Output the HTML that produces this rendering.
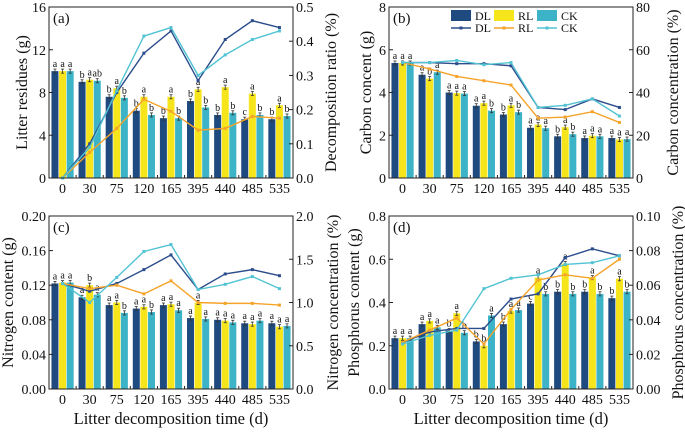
<!DOCTYPE html>
<html><head><meta charset="utf-8">
<style>
html,body{margin:0;padding:0;background:#fff;}
svg, svg text{font-family:"Liberation Serif","DejaVu Serif","Times New Roman",serif;}
</style></head>
<body>
<svg id="chart" width="685" height="430" viewBox="0 0 685 430" xmlns="http://www.w3.org/2000/svg"></svg>
<script>
const categories = ["0","30","75","120","165","395","440","485","535"];
// Panel a
const aDL = [10,9.0,7.6,6.3,5.6,7.2,5.9,5.5,5.5];
const aRL = [10,9.2,8.4,7.6,7.6,8.3,8.5,7.9,6.8];
const aCK = [10,9.1,7.5,5.9,5.6,6.6,6.1,5.9,5.8];
const aLineDL = [0,0.10,0.25,0.365,0.43,0.285,0.405,0.46,0.44];
const aLineRL = [0,0.075,0.145,0.23,0.195,0.14,0.145,0.18,0.175];
const aLineCK = [0,0.09,0.255,0.415,0.44,0.30,0.36,0.405,0.43];
const aLetters = [["a","a","a"],["b","a","ab"],["b","a","b"],["b","a","b"],["b","a","b"],["b","a","b"],["b","a","b"],["c","a","b"],["b","a","b"]];
const aLeftTicks = ["0","4","8","12","16"];
const aRightTicks = ["0.0","0.1","0.2","0.3","0.4","0.5"];
// Panel b
const bDL = [5.38,4.83,4.0,3.38,2.97,2.35,1.95,1.87,1.87];
const bRL = [5.38,4.65,3.97,3.5,3.4,2.5,2.38,1.98,1.8];
const bCK = [5.38,4.95,3.95,3.15,3.08,2.33,2.05,1.95,1.82];
const bLineDL = [54,54,53.5,53.5,52.5,33,32,37,33];
const bLineRL = [54,51,47.5,45.5,43.5,28,28.5,31,26];
const bLineCK = [54,54,55,53,54,33,34,37,29];
const bLetters = [["a","a","a"],["a","b","a"],["a","a","a"],["a","a","b"],["b","a","b"],["a","a","a"],["b","a","b"],["a","a","a"],["a","a","a"]];
const bLeftTicks = ["0","2","4","6","8"];
const bRightTicks = ["0","20","40","60","80"];
// Panel c
const cDL = [0.122,0.106,0.097,0.093,0.097,0.082,0.080,0.076,0.076];
const cRL = [0.123,0.120,0.100,0.095,0.098,0.100,0.079,0.075,0.072];
const cCK = [0.123,0.109,0.088,0.089,0.091,0.081,0.077,0.079,0.073];
const cLineDL = [1.22,1.13,1.22,1.38,1.55,1.15,1.33,1.38,1.31];
const cLineRL = [1.22,1.16,1.20,1.10,1.25,1.00,0.99,0.99,0.97];
const cLineCK = [1.22,1.00,1.29,1.59,1.67,1.15,1.21,1.30,1.16];
const cLetters = [["a","a","a"],["a","b","a"],["a","a","b"],["a","a","b"],["a","a","a"],["a","a","a"],["a","a","a"],["a","a","a"],["a","a","a"]];
const cLeftTicks = ["0.00","0.04","0.08","0.12","0.16","0.20"];
const cRightTicks = ["0.0","0.5","1.0","1.5","2.0"];
// Panel d
const dDL = [0.235,0.30,0.27,0.22,0.30,0.395,0.45,0.45,0.42];
const dRL = [0.235,0.315,0.35,0.20,0.36,0.515,0.58,0.515,0.51];
const dCK = [0.235,0.285,0.26,0.34,0.365,0.44,0.44,0.44,0.45];
const dLineDL = [0.027,0.033,0.035,0.035,0.052,0.055,0.076,0.081,0.077];
const dLineRL = [0.027,0.034,0.041,0.026,0.046,0.063,0.066,0.064,0.075];
const dLineCK = [0.026,0.031,0.034,0.058,0.064,0.066,0.072,0.073,0.077];
const dLetters = [["a","a","a"],["a","a","a"],["b","a","b"],["b","b","a"],["b","a","a"],["c","a","b"],["b","a","b"],["b","a","b"],["b","a","b"]];
const dLeftTicks = ["0.0","0.2","0.4","0.6","0.8"];
const dRightTicks = ["0.00","0.02","0.04","0.06","0.08","0.10"];

const NS = "http://www.w3.org/2000/svg";
const svg = document.getElementById("chart");
const BAR = ["#1f4a80","#f7e51c","#3cb3c6"];
const LINE = ["#2c4d8c","#f5a32a","#52c3d3"];
const SER = ["DL","RL","CK"];
function mk(tag, attrs, parent){
  const e = document.createElementNS(NS, tag);
  for (const k in attrs) e.setAttribute(k, attrs[k]);
  (parent||svg).appendChild(e);
  return e;
}
function panel(p){
  const g = mk("g",{});
  
  
  const L=p.x0, R=p.x1, T=p.y0, B=p.y1;
  const n = categories.length, step=(R-L)/n;
  const xc = i => L + step*(i+0.5);
  const yl = v => B - (v/p.lmax)*(B-T);
  const yr = v => B - (v/p.rmax)*(B-T);
  const bw = 7.6;
  const bars=[p.dl,p.rl,p.ck];
  for (let s=0;s<3;s++){
    for (let i=0;i<n;i++){
      const x = xc(i) - 1.5*bw + s*bw;
      const v = bars[s][i];
      const r = mk("rect",{x:x+0.3,y:yl(v),width:bw-0.6,height:B-yl(v),fill:BAR[s]},g);
      
      
      const e = p.lmax*0.012;
      const cx = x+bw/2;
      mk("line",{x1:cx,x2:cx,y1:yl(v+e),y2:yl(v-e),stroke:"#333","stroke-width":0.8},g);
      mk("line",{x1:cx-1.5,x2:cx+1.5,y1:yl(v+e),y2:yl(v+e),stroke:"#333","stroke-width":0.8},g);
      mk("line",{x1:cx-1.5,x2:cx+1.5,y1:yl(v-e),y2:yl(v-e),stroke:"#333","stroke-width":0.8},g);
      const t = mk("text",{x:cx,y:yl(v+e)-2,"font-size":10,"text-anchor":"middle",fill:"#111"},g);
      t.textContent = p.letters[i][s];
      
      
    }
  }
  const lines=[p.ldl,p.lrl,p.lck];
  for (let s=0;s<3;s++){
    const pts = lines[s].map((v,i)=>xc(i)+","+yr(v)).join(" ");
    const pl = mk("polyline",{points:pts,fill:"none",stroke:LINE[s],"stroke-width":1.4},g);
    
    
    lines[s].forEach((v,i)=>{
      const c = mk("rect",{x:xc(i)-1.5,y:yr(v)-1.5,width:3,height:3,fill:LINE[s]},g);
      
      
    });
  }
  const f = mk("rect",{x:L,y:T,width:R-L,height:B-T,fill:"none",stroke:"#222","stroke-width":1},g);
  
  
  p.lt.forEach((lab,i)=>{
    const y = B - i*(B-T)/(p.lt.length-1);
    mk("line",{x1:L,x2:L+4,y1:y,y2:y,stroke:"#222"},g);
    const t = mk("text",{x:L-3,y:y+5,"font-size":14,"text-anchor":"end",fill:"#111"},g);
    t.textContent = lab;
    
    
  });
  p.rt.forEach((lab,i)=>{
    const y = B - i*(B-T)/(p.rt.length-1);
    mk("line",{x1:R-4,x2:R,y1:y,y2:y,stroke:"#222"},g);
    const t = mk("text",{x:R+3,y:y+5,"font-size":14,"text-anchor":"start",fill:"#111"},g);
    t.textContent = lab;
    
    
  });
  categories.forEach((c,i)=>{
    mk("line",{x1:L+step*i,x2:L+step*i,y1:B,y2:B-3,stroke:"#222"},g);
    const t = mk("text",{x:xc(i),y:B+15,"font-size":14,"text-anchor":"middle",fill:"#111"},g);
    t.textContent = c;
    
    
  });
  const tag = mk("text",{x:L+4,y:T+16,"font-size":15,fill:"#111"},g);
  tag.textContent = "(" + p.id + ")";
  
  
  const lt = mk("text",{x:0,y:0,"font-size":16,"text-anchor":"middle",fill:"#111",transform:`translate(${p.ltx},${(T+B)/2}) rotate(-90)`},g);
  lt.textContent = p.ltitle;
  
  
  const rt = mk("text",{x:0,y:0,"font-size":16,"text-anchor":"middle",fill:"#111",transform:`translate(${p.rtx},${(T+B)/2}) rotate(-90)`},g);
  rt.textContent = p.rtitle;
  
  
  if (p.xtitle){
    const xt = mk("text",{x:(L+R)/2,y:B+35,"font-size":16.5,"text-anchor":"middle",fill:"#111"},g);
    xt.textContent = "Litter decomposition time (d)";
    
    
  }
}
panel({id:"a",x0:49,x1:293,y0:7,y1:178,lmax:16,rmax:0.5,dl:aDL,rl:aRL,ck:aCK,ldl:aLineDL,lrl:aLineRL,lck:aLineCK,letters:aLetters,lt:aLeftTicks,rt:aRightTicks,ltitle:"Litter residues (g)",rtitle:"Decomposition ratio (%)",ltx:27,rtx:336});
panel({id:"b",x0:389,x1:633,y0:7,y1:178,lmax:8,rmax:80,dl:bDL,rl:bRL,ck:bCK,ldl:bLineDL,lrl:bLineRL,lck:bLineCK,letters:bLetters,lt:bLeftTicks,rt:bRightTicks,ltitle:"Carbon concent (g)",rtitle:"Carbon concentration (%)",ltx:371,rtx:678});
panel({id:"c",x0:49,x1:293,y0:216,y1:389,lmax:0.20,rmax:2.0,dl:cDL,rl:cRL,ck:cCK,ldl:cLineDL,lrl:cLineRL,lck:cLineCK,letters:cLetters,lt:cLeftTicks,rt:cRightTicks,ltitle:"Nitrogen content (g)",rtitle:"Nitrogen concentration (%)",ltx:13,rtx:338,xtitle:true});
panel({id:"d",x0:389,x1:633,y0:216,y1:389,lmax:0.8,rmax:0.10,dl:dDL,rl:dRL,ck:dCK,ldl:dLineDL,lrl:dLineRL,lck:dLineCK,letters:dLetters,lt:dLeftTicks,rt:dRightTicks,ltitle:"Phosphorus content (g)",rtitle:"Phosphorus concentration (%)",ltx:359,rtx:683,xtitle:true});

const lg = mk("g",{});


const lx = [451,494,537];
for (let s=0;s<3;s++){
  const sw = mk("rect",{x:lx[s],y:10,width:20,height:11,fill:BAR[s]},lg);
  
  
  const t1 = mk("text",{x:lx[s]+24,y:20,"font-size":12,fill:"#111"},lg);
  t1.textContent = SER[s];
  
  
  mk("line",{x1:lx[s],x2:lx[s]+20,y1:28,y2:28,stroke:LINE[s],"stroke-width":1.4},lg);
  const m = mk("rect",{x:lx[s]+8.5,y:26.5,width:3,height:3,fill:LINE[s]},lg);
  
  
  const t2 = mk("text",{x:lx[s]+24,y:32,"font-size":12,fill:"#111"},lg);
  t2.textContent = SER[s];
  
  
}
</script>
</body></html>
